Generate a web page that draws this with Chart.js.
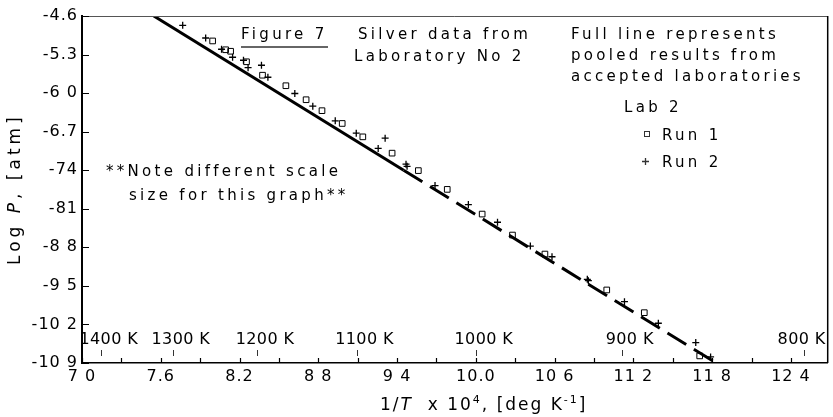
<!DOCTYPE html>
<html>
<head>
<meta charset="utf-8">
<script src="https://cdn.jsdelivr.net/npm/chart.js@4/dist/chart.umd.min.js"></script>
<style>
  html, body { margin: 0; padding: 0; background: #fff; }
  #wrap { width: 833px; height: 417px; }
</style>
</head>
<body>
<div id="wrap"><canvas id="c" width="833" height="417"></canvas></div>
<script>
// Lab 2, Run 1 (open squares): 1/T x 10^4 and log P
const run1X = [7.995, 8.094, 8.132, 8.253, 8.375, 8.553, 8.707, 8.828, 8.982, 9.139, 9.362, 9.562, 9.782, 10.048, 10.279, 10.526, 10.997, 11.283, 11.705];
const run1Y = [-5.053, -5.213, -5.240, -5.431, -5.675, -5.866, -6.120, -6.319, -6.551, -6.794, -7.090, -7.407, -7.748, -8.196, -8.577, -8.922, -9.574, -9.986, -10.771];
// Lab 2, Run 2 (crosses)
const run2X = [7.767, 7.942, 8.063, 8.147, 8.230, 8.265, 8.367, 8.416, 8.621, 8.758, 8.929, 9.089, 9.309, 9.256, 9.468, 9.476, 9.689, 9.943, 10.165, 10.415, 10.580, 10.849, 10.857, 11.132, 11.390, 11.675, 11.788];
const run2Y = [-4.769, -4.999, -5.204, -5.349, -5.403, -5.539, -5.494, -5.712, -6.007, -6.238, -6.504, -6.727, -6.818, -7.005, -7.290, -7.330, -7.679, -8.024, -8.345, -8.777, -8.971, -9.380, -9.405, -9.787, -10.178, -10.530, -10.789];
// Pooled results of the accepted laboratories: solid, then broken from 9.45 on
const pooledX = [7.547, 9.45, 11.83];
const pooledY = [-4.6, -7.4, -10.9];

const yTickValues = [-10.9, -10.2, -9.5, -8.8, -8.1, -7.4, -6.7, -6.0, -5.3, -4.6];
const yTickLabels = ["-10 9", "-10 2", "-9 5", "-8 8", "-81", "-74", "-6.7", "-6 0", "-5.3", "-4.6"];
const xTickValues = [7.0, 7.6, 8.2, 8.8, 9.4, 10.0, 10.6, 11.2, 11.8, 12.4];
const xTickLabels = ["7 0", "7.6", "8.2", "8 8", "9 4", "10.0", "10 6", "11 2", "11 8", "12 4"];
const xMinorTicks = [7.3, 7.9, 8.5, 9.1, 9.7, 10.3, 10.9, 11.5, 12.1];
// Temperature scale along the bottom (1/T x 10^4)
const tempK = [1400, 1300, 1200, 1100, 1000, 900, 800];
const tempLabels = ["1400 K", "1300 K", "1200 K", "1100 K", "1000 K", "900 K", "800 K"];

const FONT = '"DejaVu Sans", sans-serif';
const pts = (xs, ys) => xs.map((x, i) => ({ x: x, y: ys[i] }));

function drawParts(ctx, parts, x, y, spacing) {
  // parts: [text, style, size, rise]
  let cx = x;
  ctx.letterSpacing = spacing + 'px';
  for (const [t, st, sz, rise] of parts) {
    ctx.font = (st || '') + ' ' + sz + 'px ' + FONT;
    ctx.fillText(t, cx, y - (rise || 0));
    cx += ctx.measureText(t).width;
  }
  ctx.letterSpacing = '0px';
}

const decor = {
  id: 'decor',
  beforeDraw(chart) {
    // wide, stencil-like spacing for the tick lettering
    chart.ctx.letterSpacing = '1px';
  },
  afterDraw(chart) {
    const ctx = chart.ctx;
    const a = chart.chartArea;
    const xs = chart.scales.x, ys = chart.scales.y;
    ctx.save();
    ctx.letterSpacing = '0px';
    ctx.strokeStyle = '#000';
    ctx.fillStyle = '#000';

    // frame: top and right edges
    ctx.lineWidth = 1;
    ctx.strokeStyle = '#555';
    ctx.beginPath(); ctx.moveTo(a.left, a.top + 0.5); ctx.lineTo(a.right, a.top + 0.5); ctx.stroke();
    ctx.strokeStyle = '#000';
    ctx.lineWidth = 1.5;
    ctx.beginPath(); ctx.moveTo(a.right, a.top); ctx.lineTo(a.right, a.bottom); ctx.stroke();

    // inward tick marks
    ctx.lineWidth = 1.2;
    ctx.beginPath();
    for (const v of yTickValues) {
      const py = Math.round(ys.getPixelForValue(v)) + 0.5;
      ctx.moveTo(a.left, py); ctx.lineTo(a.left + 7, py);
    }
    for (const v of xTickValues.concat(xMinorTicks)) {
      const px = Math.round(xs.getPixelForValue(v)) + 0.5;
      ctx.moveTo(px, a.bottom); ctx.lineTo(px, a.bottom - 5);
    }
    ctx.stroke();

    // temperature marks and labels
    ctx.lineWidth = 1;
    ctx.strokeStyle = '#333';
    ctx.font = '16px ' + FONT;
    ctx.letterSpacing = '0.4px';
    ctx.textAlign = 'center';
    ctx.textBaseline = 'alphabetic';
    tempK.forEach((k, i) => {
      const px = xs.getPixelForValue(1e4 / k);
      ctx.beginPath(); ctx.moveTo(Math.round(px) + 0.5, a.bottom - 13); ctx.lineTo(Math.round(px) + 0.5, a.bottom - 7); ctx.stroke();
      const w = ctx.measureText(tempLabels[i]).width;
      const cx = Math.min(px + 8, a.right - 2 - w / 2);
      ctx.fillText(tempLabels[i], cx, a.bottom - 19);
    });
    ctx.letterSpacing = '0px';

    // annotations
    ctx.textAlign = 'left';
    const S = 3.3;
    const T = (t, x, y) => drawParts(ctx, [[t, '', 15]], x, y, S);
    T('Figure 7', 241, 39);
    ctx.lineWidth = 1.5;
    ctx.beginPath(); ctx.moveTo(241, 47); ctx.lineTo(328, 47); ctx.stroke();
    T('Silver data from', 358, 39);
    T('Laboratory No 2', 354, 61);
    T('Full line represents', 571, 39);
    T('pooled results from', 571, 60);
    T('accepted laboratories', 571, 81);
    T('Lab 2', 624, 112);
    T('Run 1', 662, 140);
    T('Run 2', 662, 167);
    T('**Note different scale', 106, 176);
    T('size for this graph**', 129, 200);

    // legend symbols
    ctx.lineWidth = 1;
    ctx.strokeRect(644.5, 131.5, 5, 5);
    ctx.lineWidth = 1.3;
    ctx.beginPath();
    ctx.moveTo(642, 161.5); ctx.lineTo(649, 161.5);
    ctx.moveTo(645.5, 158); ctx.lineTo(645.5, 165);
    ctx.stroke();

    // axis titles
    drawParts(ctx, [['1/', '', 17], ['T', 'italic', 17], ['  x 10', '', 17], ['4', '', 11, 7], [', [deg K', '', 17], ['-1', '', 11, 7], [']', '', 17]], 380, 410, 2);
    ctx.save();
    ctx.translate(20, 265);
    ctx.rotate(-Math.PI / 2);
    drawParts(ctx, [['Log ', '', 17], ['P', 'italic', 17], [', [atm]', '', 17]], 0, 0, 4);
    ctx.restore();

    ctx.restore();
  }
};

new Chart(document.getElementById('c'), {
  type: 'scatter',
  data: {
    datasets: [
      {
        label: 'Pooled results',
        type: 'line',
        data: pts(pooledX, pooledY),
        borderColor: '#000',
        borderWidth: 3,
        pointRadius: 0,
        fill: false,
        segment: { borderDash: c => (c.p0DataIndex >= 1 ? [22, 9] : undefined) }
      },
      {
        label: 'Run 1',
        data: pts(run1X, run1Y),
        pointStyle: 'rect',
        pointRadius: 4,
        borderColor: '#000',
        backgroundColor: 'rgba(255,255,255,0)',
        borderWidth: 1
      },
      {
        label: 'Run 2',
        data: pts(run2X, run2Y),
        pointStyle: 'cross',
        pointRadius: 3.5,
        borderColor: '#000',
        borderWidth: 1.3
      }
    ]
  },
  options: {
    responsive: false,
    animation: false,
    devicePixelRatio: 1,
    layout: { padding: { top: 16, right: 3, left: 0, bottom: 0 } },
    plugins: { legend: { display: false }, tooltip: { enabled: false }, title: { display: false } },
    scales: {
      x: {
        type: 'linear',
        min: 7.0,
        max: 12.68,
        afterFit: s => { s.height = 54; },
        afterBuildTicks: s => { s.ticks = xTickValues.map(v => ({ value: v })); },
        grid: { drawOnChartArea: false, drawTicks: false },
        border: { display: true, color: '#000', width: 1.5 },
        ticks: {
          autoSkip: false, maxRotation: 0, padding: 4, color: '#000',
          font: { family: FONT, size: 16 },
          callback: (v, i) => xTickLabels[i]
        }
      },
      y: {
        type: 'linear',
        min: -10.9,
        max: -4.6,
        afterFit: s => { s.width = 82; },
        afterBuildTicks: s => { s.ticks = yTickValues.map(v => ({ value: v })); },
        grid: { drawOnChartArea: false, drawTicks: false },
        border: { display: true, color: '#000', width: 2 },
        ticks: {
          autoSkip: false, padding: 4, color: '#000',
          font: { family: FONT, size: 16 },
          callback: (v, i) => yTickLabels[i]
        }
      }
    }
  },
  plugins: [decor]
});
</script>
</body>
</html>
